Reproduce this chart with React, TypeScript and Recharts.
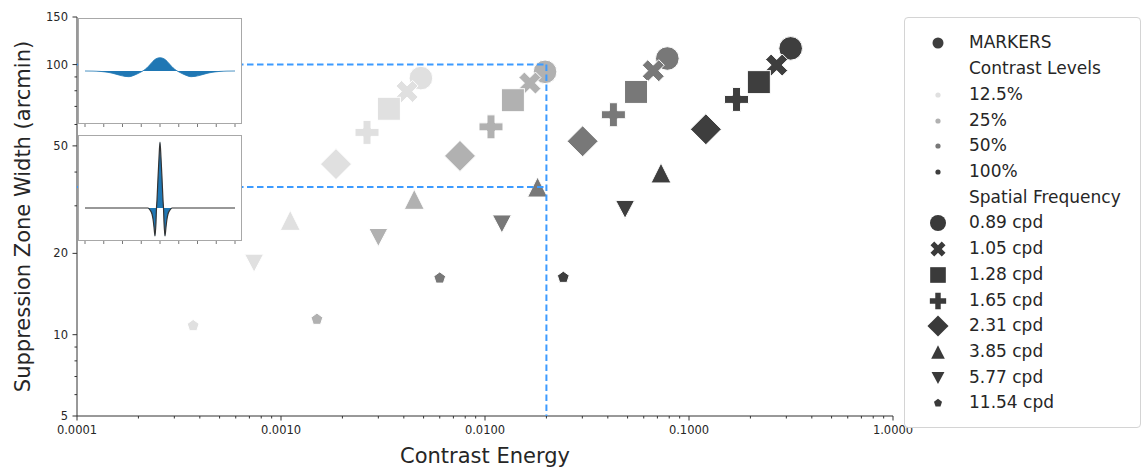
import React from "react";
import {
  ScatterChart,
  Scatter,
  XAxis,
  YAxis,
  ReferenceLine,
  AreaChart,
  Area,
} from "recharts";

// spatial frequency -> marker, in plotting order
const frequencies = ["0.89 cpd", "1.05 cpd", "1.28 cpd", "1.65 cpd", "2.31 cpd", "3.85 cpd", "5.77 cpd", "11.54 cpd"];
const markerKinds = ["circle", "x", "square", "plus", "diamond", "triUp", "triDown", "pentagon"];

const contrastLevels = ["12.5%", "25%", "50%", "100%"];
const levelColors = ["#e0e0e0", "#b1b1b1", "#787878", "#3e3e3e"];

// contrast energy (x) and suppression zone width (y), one entry per frequency
const energy125 = [0.00485, 0.00415, 0.00338, 0.00264, 0.00186, 0.00111, 0.000738, 0.000371];
const width125 = [89.1, 79.5, 68.6, 56.1, 42.8, 26.5, 18.4, 10.8];
const energy25 = [0.0197, 0.0166, 0.0137, 0.0107, 0.00754, 0.0045, 0.003, 0.0015];
const width25 = [94.0, 85.4, 73.8, 58.8, 45.9, 31.7, 22.9, 11.4];
const energy50 = [0.0783, 0.0668, 0.055, 0.0426, 0.0301, 0.0181, 0.0121, 0.006];
const width50 = [105.3, 94.9, 79.2, 65.2, 52.0, 35.2, 25.7, 16.2];
const energy100 = [0.315, 0.269, 0.22, 0.171, 0.121, 0.0729, 0.0486, 0.0242];
const width100 = [114.8, 99.6, 86.1, 74.3, 57.6, 39.7, 29.1, 16.3];

const levelEnergy = [energy125, energy25, energy50, energy100];
const levelWidth = [width125, width25, width50, width100];

// guide lines
const guideEnergy = 0.02;
const guideWidthHigh = 100;
const guideWidthLow = 35.2;

// axes
const xMajorTicks = [0.0001, 0.001, 0.01, 0.1, 1];
const xMinorTicks = [0.0001, 0.001, 0.01, 0.1].flatMap((d) => [2, 3, 4, 5, 6, 7, 8, 9].map((m) => d * m));
const yMajorTicks = [5, 10, 20, 50, 100, 150];
const yMinorTicks = [6, 7, 8, 9, 30, 40, 60, 70, 80, 90];

// inset waveforms (pixel offsets from centre, amplitude)
const inset1Offsets = [-75, -67, -60, -55, -50, -45, -40, -35, -31, -27, -23, -19, -16, -13, -10, -7, -4, 0, 4, 7, 10, 13, 16, 19, 23, 27, 31, 35, 40, 45, 50, 55, 60, 67, 75];
const inset1Values = [0, -0.1, -0.4, -0.9, -1.7, -2.9, -4.3, -5.4, -5.7, -4.7, -3.0, -1.0, 0.8, 3.2, 6.4, 9.8, 12.2, 13.3, 12.2, 9.8, 6.4, 3.2, 0.8, -1.0, -3.0, -4.7, -5.7, -5.4, -4.3, -2.9, -1.7, -0.9, -0.4, -0.1, 0];
const inset2Offsets = [-75, -12, -10, -8, -7, -6, -5, -4, -3.5, -3, -2, -1, 0, 1, 2, 3, 3.5, 4, 5, 6, 7, 8, 10, 12, 75];
const inset2Values = [0, 0, -2, -6, -11, -19, -28, -14, 0, 8, 30, 50, 66, 50, 30, 8, 0, -14, -28, -19, -11, -6, -2, 0, 0];
const insetTicks = [-75, -56.25, -37.5, -18.75, 0, 18.75, 37.5, 56.25, 75];

const FONT = "DejaVu Sans";
const TEXT = "#262626";
const GUIDE = "#3d9bff";

function Glyph({ kind, cx, cy, fill, s = 1, stroke = "#fff" }: any) {
  const sw = 1;
  if (kind === "circle") return <circle cx={cx} cy={cy} r={11.8 * s} fill={fill} stroke={stroke} strokeWidth={sw} />;
  if (kind === "square") {
    const h = 11.5 * s;
    return <rect x={cx - h} y={cy - h} width={2 * h} height={2 * h} fill={fill} stroke={stroke} strokeWidth={sw} />;
  }
  if (kind === "diamond") {
    const h = 15.5 * s;
    return <polygon points={`${cx},${cy - h} ${cx + h},${cy} ${cx},${cy + h} ${cx - h},${cy}`} fill={fill} stroke={stroke} strokeWidth={sw} />;
  }
  if (kind === "plus" || kind === "x") {
    const a = (kind === "plus" ? 12 : 11.7) * s;
    const w = a / 3;
    const pts = [[-w, -a], [w, -a], [w, -w], [a, -w], [a, w], [w, w], [w, a], [-w, a], [-w, w], [-a, w], [-a, -w], [-w, -w]];
    const ang = kind === "x" ? Math.PI / 4 : 0;
    const p = pts
      .map(([px, py]) => `${cx + px * Math.cos(ang) - py * Math.sin(ang)},${cy + px * Math.sin(ang) + py * Math.cos(ang)}`)
      .join(" ");
    return <polygon points={p} fill={fill} stroke={stroke} strokeWidth={sw} />;
  }
  if (kind === "triUp") {
    const hw = 10 * s, hh = 10 * s;
    return <polygon points={`${cx},${cy - hh} ${cx + hw},${cy + hh} ${cx - hw},${cy + hh}`} fill={fill} stroke={stroke} strokeWidth={sw} />;
  }
  if (kind === "triDown") {
    const hw = 9.5 * s, hh = 9 * s;
    return <polygon points={`${cx - hw},${cy - hh} ${cx + hw},${cy - hh} ${cx},${cy + hh}`} fill={fill} stroke={stroke} strokeWidth={sw} />;
  }
  if (kind === "pentagon") {
    const r = 6.2 * s;
    const p = [0, 1, 2, 3, 4]
      .map((i) => {
        const t = -Math.PI / 2 + (i * 2 * Math.PI) / 5;
        return `${cx + r * Math.cos(t)},${cy + r * Math.sin(t)}`;
      })
      .join(" ");
    return <polygon points={p} fill={fill} stroke={stroke} strokeWidth={sw} />;
  }
  return null;
}

function XTick({ x, y, payload }: any) {
  const v = payload.value;
  const major = xMajorTicks.some((t) => Math.abs(t - v) / t < 1e-6);
  return (
    <g>
      <line x1={x} x2={x} y1={y} y2={y + (major ? 4.5 : 2.5)} stroke="#333" />
      {major && (
        <text x={x} y={y + 18} textAnchor="middle" fontSize={11.5} fontFamily={FONT} fill={TEXT}>
          {v.toFixed(4)}
        </text>
      )}
    </g>
  );
}

function YTick({ x, y, payload }: any) {
  const v = payload.value;
  const major = yMajorTicks.includes(v);
  return (
    <g>
      <line x1={x} x2={x - (major ? 4.5 : 2.5)} y1={y} y2={y} stroke="#333" />
      {major && (
        <text x={x - 9} y={y + 4} textAnchor="end" fontSize={11.5} fontFamily={FONT} fill={TEXT}>
          {v}
        </text>
      )}
    </g>
  );
}

function Inset({ top, offsets, values, domain, stroke, strokeWidth }: any) {
  const data = offsets.map((t: number, i: number) => ({ t, v: values[i] }));
  return (
    <>
      <div
        style={{
          position: "absolute",
          left: 78,
          top,
          width: 164,
          height: 106,
          border: "1px solid #a8a8a8",
          boxSizing: "border-box",
          background: "#fff",
        }}
      />
      <div style={{ position: "absolute", left: 78, top }}>
        <AreaChart width={164} height={110} data={data} margin={{ top: 0, right: 0, bottom: 0, left: 0 }}>
          <XAxis
            dataKey="t"
            type="number"
            domain={[-82, 82]}
            ticks={insetTicks}
            interval={0}
            tickSize={3}
            tickFormatter={() => ""}
            axisLine={false}
            tickLine={{ stroke: "#777" }}
            height={4}
          />
          <YAxis hide type="number" domain={domain} allowDataOverflow />
          <Area
            dataKey="v"
            type="monotone"
            baseValue={0}
            stroke={stroke}
            strokeWidth={strokeWidth}
            fill="#1f77b4"
            fillOpacity={1}
            isAnimationActive={false}
          />
        </AreaChart>
      </div>
    </>
  );
}

function Legend() {
  const rows: { label: string; marker?: React.ReactNode }[] = [
    { label: "MARKERS", marker: <circle cx={12} cy={12} r={5.5} fill="#3e3e3e" /> },
    { label: "Contrast Levels" },
    ...contrastLevels.map((l, i) => ({ label: l, marker: <circle cx={12} cy={12} r={2.6} fill={levelColors[i]} /> })),
    { label: "Spatial Frequency" },
    ...frequencies.map((f, i) => ({
      label: f,
      marker: <Glyph kind={markerKinds[i]} cx={12} cy={12} fill="#3a3a3a" s={0.68} stroke="none" />,
    })),
  ];
  return (
    <div
      style={{
        position: "absolute",
        left: 904,
        top: 17,
        width: 237,
        height: 411,
        border: "1px solid #d4d4d4",
        borderRadius: 4,
        boxSizing: "border-box",
        background: "#fff",
        paddingTop: 12.4,
        fontFamily: FONT,
        fontSize: 17,
        color: TEXT,
      }}
    >
      {rows.map((r) => (
        <div key={r.label} style={{ position: "relative", height: 25.73, lineHeight: "25.73px" }}>
          {r.marker && (
            <svg width={24} height={24} style={{ position: "absolute", left: 21, top: 1 }}>
              {r.marker}
            </svg>
          )}
          <span style={{ position: "absolute", left: 64, top: 0, whiteSpace: "nowrap" }}>{r.label}</span>
        </div>
      ))}
    </div>
  );
}

export default function App() {
  const series = contrastLevels.map((level, li) => ({
    level,
    color: levelColors[li],
    data: levelEnergy[li].map((x, fi) => ({ x, y: levelWidth[li][fi], kind: markerKinds[fi] })),
  }));

  const guides = [
    [{ x: 0.0001, y: guideWidthHigh }, { x: guideEnergy, y: guideWidthHigh }],
    [{ x: 0.0001, y: guideWidthLow }, { x: guideEnergy, y: guideWidthLow }],
    [{ x: guideEnergy, y: guideWidthHigh }, { x: guideEnergy, y: 5 }],
  ];

  return (
    <div style={{ position: "absolute", left: 0, top: 0, width: 1146, height: 470, background: "#fff", fontFamily: FONT }}>
      <ScatterChart width={1146} height={470} margin={{ top: 17, right: 253, bottom: 24, left: 17 }}>
        <XAxis
          dataKey="x"
          type="number"
          scale="log"
          domain={[0.0001, 1]}
          allowDataOverflow
          ticks={[...xMajorTicks, ...xMinorTicks]}
          interval={0}
          tickSize={0}
          tickMargin={0}
          tick={XTick}
          axisLine={{ stroke: "#333" }}
          height={30}
          label={{
            content: ({ viewBox }: any) => (
              <text
                x={viewBox.x + viewBox.width / 2}
                y={viewBox.y + 47}
                textAnchor="middle"
                fontSize={21}
                fontFamily={FONT}
                fill={TEXT}
              >
                Contrast Energy
              </text>
            ),
          }}
        />
        <YAxis
          dataKey="y"
          type="number"
          scale="log"
          domain={[5, 150]}
          allowDataOverflow
          ticks={[...yMajorTicks, ...yMinorTicks]}
          interval={0}
          tickSize={0}
          tickMargin={0}
          tick={YTick}
          axisLine={{ stroke: "#333" }}
          width={60}
          label={{
            content: ({ viewBox }: any) => (
              <text
                transform={`translate(${viewBox.x + 12.5},${viewBox.y + viewBox.height / 2}) rotate(-90)`}
                textAnchor="middle"
                fontSize={21}
                fontFamily={FONT}
                fill={TEXT}
              >
                Suppression Zone Width (arcmin)
              </text>
            ),
          }}
        />
        <XAxis xAxisId="top" orientation="top" type="number" domain={[0, 1]} height={0} tick={false} tickLine={false} axisLine={{ stroke: "#333" }} />
        <YAxis yAxisId="right" orientation="right" type="number" domain={[0, 1]} width={0} tick={false} tickLine={false} axisLine={{ stroke: "#333" }} />
        {series.map((s) => (
          <Scatter
            key={s.level}
            name={s.level}
            data={s.data}
            fill={s.color}
            isAnimationActive={false}
            shape={(p: any) => <Glyph kind={p.payload.kind} cx={p.cx} cy={p.cy} fill={s.color} />}
          />
        ))}
        {guides.map((seg, i) => (
          <ReferenceLine
            key={i}
            segment={seg}
            stroke={GUIDE}
            strokeWidth={2}
            strokeDasharray="6.5 3.5"
            ifOverflow="visible"
            zIndex={1000}
          />
        ))}
      </ScatterChart>
      <Inset top={18} offsets={inset1Offsets} values={inset1Values} domain={[-53, 53]} stroke="#1f77b4" strokeWidth={0.8} />
      <Inset top={135} offsets={inset2Offsets} values={inset2Values} domain={[-33, 73]} stroke="#333" strokeWidth={1.2} />
      <Legend />
    </div>
  );
}
